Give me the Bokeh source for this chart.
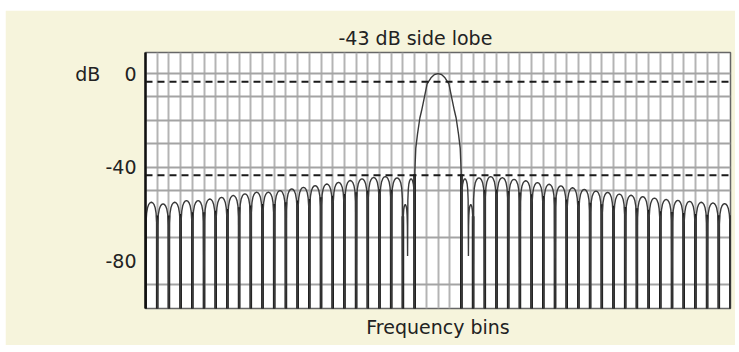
from bokeh.plotting import figure
from bokeh.models import Range1d, FixedTicker, Span
from bokeh.embed import file_html
from bokeh.resources import INLINE

# ---- data ----
title_text = "-43 dB side lobe"
x_label = "Frequency bins"
y_ticks = [0, -40, -80]
y_tick_labels = {0: "dB\u00a0\u00a0\u00a0\u00a00", -40: "-40", -80: "-80"}
y_grid = [0, -10, -20, -30, -40, -50, -70, -90]
x_grid = list(range(-24, 25))
dash_levels = [-3.5, -43.5]

# null positions (bins) and depth in dB (-110 = clipped to bottom)
null_bins = [-25, -24, -23, -22, -21, -20, -19, -18, -17, -16, -15, -14, -13,
             -12, -11, -10, -9, -8, -7, -6, -5, -4, -3, -2.6, -2,
             2, 2.6, 3, 4, 5, 6, 7, 8, 9, 10, 11, 12, 13, 14, 15, 16, 17,
             18, 19, 20, 21, 22, 23, 24, 25]
null_depth = [-110] * 23 + [-78, -110, -110, -78] + [-110] * 23

# side-lobe peak levels (dB), left to right, main lobe excluded
lobe_peaks = [-55.0, -55.7, -55.0, -54.3, -54.3, -53.6, -52.9, -52.1, -51.4,
              -50.7, -50.7, -50.0, -49.3, -48.6, -47.9, -47.2, -46.5, -45.7,
              -45.0, -44.4, -44.0, -44.6, -56.0, -45.0,
              -45.0, -56.0, -44.6, -44.0, -44.5, -45.2, -45.8, -46.6, -47.3,
              -48.0, -48.8, -49.5, -50.2, -50.8, -51.5, -52.0, -52.6, -53.2,
              -53.8, -54.2, -54.6, -55.0, -55.3, -55.6]

# typical side-lobe outline: position across lobe, level relative to its peak
lobe_frac = [0.04, 0.1, 0.18, 0.28, 0.38, 0.5, 0.62, 0.72, 0.82, 0.9, 0.96]
lobe_rel = [-9, -4.5, -2.2, -0.9, -0.25, 0, -0.25, -0.9, -2.2, -4.5, -9]

# main lobe outline
main_bins = [-1.98, -1.9, -1.75, -1.55, -1.4, -1.2, -0.93, -0.6, -0.3, 0,
             0.3, 0.6, 0.93, 1.2, 1.4, 1.55, 1.75, 1.9, 1.98]
main_db = [-42, -32, -25.8, -19, -15.8, -11, -4.4, -1.8, -0.4, 0,
           -0.4, -1.8, -4.4, -11, -15.8, -19, -25.8, -32, -42]

# ---- assemble curve ----
xs, ys = [], []
lobe_index = []
j = 0
for i in range(len(null_bins) - 1):
    a, b = null_bins[i], null_bins[i + 1]
    xs.append(a)
    ys.append(null_depth[i])
    if a == -2 and b == 2:
        xs.extend(main_bins)
        ys.extend(main_db)
        lobe_index.append(None)
    else:
        pk = lobe_peaks[j]
        j += 1
        lobe_index.append(pk)
        for f, r in zip(lobe_frac, lobe_rel):
            xs.append(a + f * (b - a))
            ys.append(pk + r)
xs.append(null_bins[-1])
ys.append(null_depth[-1])

# thick null strokes
seg_x, seg_top = [], []
for i, nb in enumerate(null_bins):
    if null_depth[i] > -100:
        continue
    adj = []
    if i > 0 and lobe_index[i - 1] is not None:
        adj.append(lobe_index[i - 1])
    if i < len(lobe_index) and lobe_index[i] is not None:
        adj.append(lobe_index[i])
    if nb in (-2, 2):
        adj = [-38]
    seg_x.append(nb)
    seg_top.append(min(adj) - 5)

BEIGE = "#f6f4dc"
TXT = "#222222"
FONT = "DejaVu Sans"

p = figure(width=730, height=335, output_backend="svg", toolbar_location=None,
           x_range=Range1d(-25, 25), y_range=Range1d(-100.4, 9.0),
           min_border_left=140, min_border_right=5, min_border_top=42,
           min_border_bottom=37, margin=(10, 4, 6, 5))
p.border_fill_color = BEIGE
p.background_fill_color = "white"
p.outline_line_color = "#666666"
p.outline_line_width = 1.5

p.title.text = title_text
p.title.align = "left"
p.title.offset = 193
p.title.text_font = FONT
p.title.text_font_size = "19px"
p.title.text_font_style = "normal"
p.title.text_color = TXT
p.title.standoff = 7

# grids
p.xgrid.ticker = FixedTicker(ticks=x_grid)
p.ygrid.ticker = FixedTicker(ticks=y_grid)
p.xgrid.grid_line_color = "#b4b4b4"
p.xgrid.grid_line_width = 2
p.ygrid.grid_line_color = "#a4a4a4"
p.ygrid.grid_line_width = 2

# x axis: label only
p.xaxis.ticker = FixedTicker(ticks=[])
p.xaxis.major_label_standoff = 0
p.xaxis.major_tick_line_color = None
p.xaxis.minor_tick_line_color = None
p.xaxis.axis_line_color = None
p.xaxis.axis_label = x_label
p.xaxis.axis_label_text_font = FONT
p.xaxis.axis_label_text_font_size = "19px"
p.xaxis.axis_label_text_font_style = "normal"
p.xaxis.axis_label_text_color = TXT
p.xaxis.axis_label_standoff = 7

# y axis
p.yaxis.ticker = FixedTicker(ticks=y_ticks)
p.yaxis.major_label_overrides = y_tick_labels
p.yaxis.major_label_text_font = FONT
p.yaxis.major_label_text_font_size = "19px"
p.yaxis.major_label_text_color = TXT
p.yaxis.major_label_standoff = 3
p.yaxis.major_tick_line_color = None
p.yaxis.minor_tick_line_color = None
p.yaxis.axis_line_color = "#111111"
p.yaxis.axis_line_width = 2.5

# dashed reference levels
for lv in dash_levels:
    p.add_layout(Span(location=lv, dimension="width", line_color="#1a1a1a",
                      line_width=2, line_dash="7 5"))

p.segment(x0=seg_x, y0=seg_top, x1=seg_x, y1=[-110] * len(seg_x),
          line_color="#000000", line_width=2.6)
p.line(xs, ys, line_color="#3a3a3a", line_width=1.4)

open("out.html", "w").write(file_html(p, INLINE))
